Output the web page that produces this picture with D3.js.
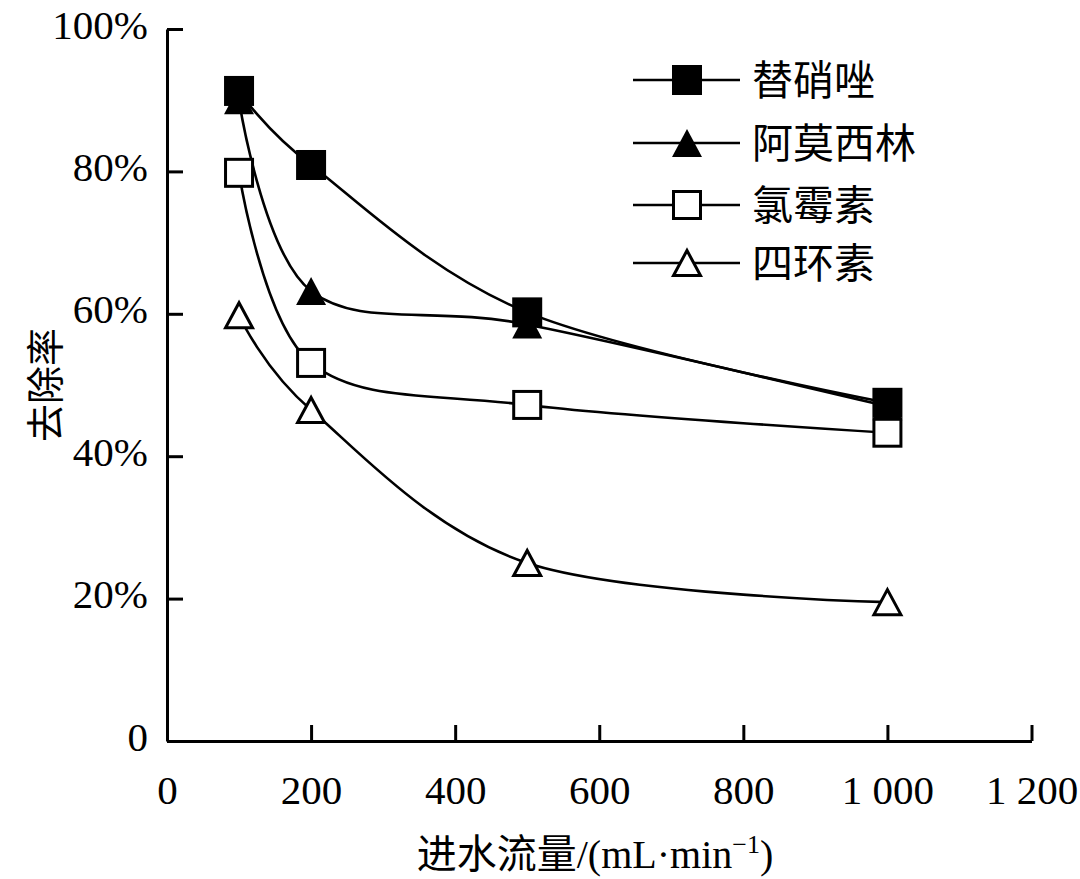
<!DOCTYPE html>
<html><head><meta charset="utf-8">
<script src="https://cdn.jsdelivr.net/npm/d3@7"></script>
<style>html,body{margin:0;padding:0;background:#fff}</style>
</head><body>
<svg id="c" width="1080" height="879"></svg>
<script>
const flows = [100, 200, 500, 1000];
const seriesNames = ["替硝唑", "阿莫西林", "氯霉素", "四环素"];
const tinidazole = [0.913, 0.809, 0.602, 0.475];
const amoxicillin = [0.900, 0.632, 0.585, 0.470];
const chloramphenicol = [0.798, 0.531, 0.472, 0.433];
const tetracycline = [0.598, 0.465, 0.250, 0.195];
const xTicks = [0, 200, 400, 600, 800, 1000, 1200];
const xTickLabels = ["0", "200", "400", "600", "800", "1 000", "1 200"];
const yTicks = [0, 0.2, 0.4, 0.6, 0.8, 1.0];
const yTickLabels = ["0", "20%", "40%", "60%", "80%", "100%"];
const markerTypes = ["squareFilled", "triangleFilled", "squareOpen", "triangleOpen"];
const seriesValues = [tinidazole, amoxicillin, chloramphenicol, tetracycline];

const FONT = "'Liberation Serif', 'Times New Roman', 'Noto Sans CJK SC', serif";
const svg = d3.select("#c");
const x = d3.scaleLinear().domain([0, 1200]).range([167, 1031.5]);
const y = d3.scaleLinear().domain([0, 1]).range([741, 29]);

// axes
const xAxis = d3.axisBottom(x).tickValues(xTicks)
  .tickFormat((d, i) => xTickLabels[i]).tickSizeInner(-16).tickSizeOuter(0).tickPadding(30);
const yAxis = d3.axisLeft(y).tickValues(yTicks)
  .tickFormat((d, i) => yTickLabels[i]).tickSizeInner(-16).tickSizeOuter(0).tickPadding(19);

const gx = svg.append("g").attr("transform", `translate(0,${y(0)})`).call(xAxis);
const gy = svg.append("g").attr("transform", `translate(${x(0)},0)`).call(yAxis);
[gx, gy].forEach(g => {
  g.select(".domain").attr("stroke", "#000").attr("stroke-width", 3);
  g.selectAll(".tick line").attr("stroke", "#000").attr("stroke-width", 3);
  g.selectAll(".tick text").attr("fill", "#000").style("font-family", FONT).style("font-size", "41px");
});
gx.selectAll(".tick text").attr("dy", "0.71em").attr("y", 34);
gy.selectAll(".tick text").attr("dy", "0.22em");

// axis titles
svg.append("text").attr("transform", `translate(46,${y(0.5)}) rotate(-90)`)
  .attr("text-anchor", "middle").attr("dy", "0.35em")
  .style("font-family", FONT).style("font-size", "38px").text("去除率");
const xt = svg.append("text").attr("x", 595).attr("y", 868).attr("text-anchor", "middle")
  .style("font-family", FONT).style("font-size", "40px");
xt.append("tspan").text("进水流量/(mL·min");
xt.append("tspan").attr("dy", -15).style("font-size", "26px").text("−1");
xt.append("tspan").attr("dy", 15).text(")");

// marker drawing
function marker(g, type, cx, cy) {
  const s = 15;
  if (type.startsWith("square")) {
    const filled = type === "squareFilled";
    g.append("rect").attr("x", cx - s + (filled ? 0 : 1.5)).attr("y", cy - s + (filled ? 0 : 1.5))
      .attr("width", filled ? 2 * s : 2 * s - 3).attr("height", filled ? 2 * s : 2 * s - 3)
      .attr("fill", filled ? "#000" : "#fff").attr("stroke", "#000").attr("stroke-width", filled ? 0 : 3);
  } else {
    const filled = type === "triangleFilled";
    const w = filled ? 15 : 13.5, h = filled ? 14 : 12.5;
    g.append("path").attr("d", `M${cx},${cy - h}L${cx + w},${cy + h}L${cx - w},${cy + h}Z`)
      .attr("fill", filled ? "#000" : "#fff").attr("stroke", "#000")
      .attr("stroke-width", filled ? 0 : 3).attr("stroke-linejoin", "miter");
  }
}

const line = d3.line().x(d => x(d[0])).y(d => y(d[1])).curve(d3.curveCardinal.tension(0));
const plot = svg.append("g");
const order = [3, 2, 1, 0];
order.forEach(i => {
  const pts = flows.map((f, j) => [f, seriesValues[i][j]]);
  plot.append("path").attr("d", line(pts)).attr("fill", "none").attr("stroke", "#000").attr("stroke-width", 2.6);
});
order.forEach(i => {
  flows.forEach((f, j) => marker(plot, markerTypes[i], x(f), y(seriesValues[i][j])));
});

// legend
const legY = [80, 143, 205, 263];
const leg = svg.append("g");
seriesNames.forEach((name, i) => {
  leg.append("line").attr("x1", 633).attr("x2", 740).attr("y1", legY[i]).attr("y2", legY[i])
    .attr("stroke", "#000").attr("stroke-width", 2.6);
  marker(leg, markerTypes[i], 687, legY[i]);
  leg.append("text").attr("x", 752).attr("y", legY[i]).attr("dy", "0.36em")
    .style("font-family", FONT).style("font-size", "41px").text(name);
});
</script>
</body></html>
